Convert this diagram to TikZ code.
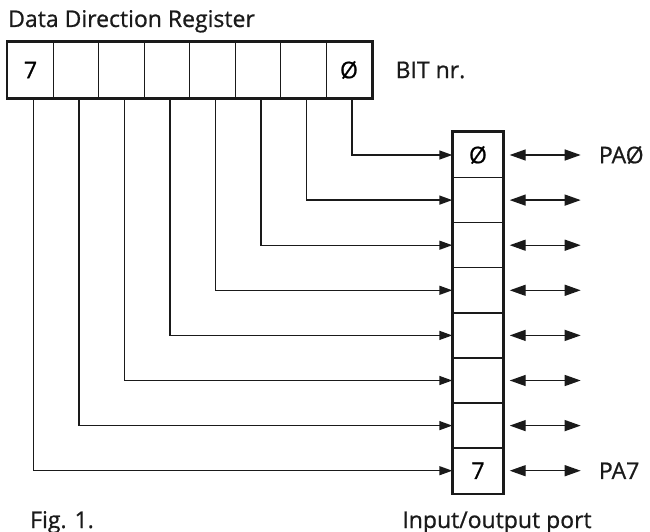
\documentclass[tikz,border=0pt]{standalone}
\usepackage{fontspec}
\setmainfont{Open Sans}[FakeBold=0.8]
\usetikzlibrary{arrows.meta,positioning,calc}
\definecolor{ink}{HTML}{1A1A1A}

\begin{document}
\begin{tikzpicture}[x=1pt,y=-1pt,
  cell/.style={draw=ink,line width=1.4pt,minimum width=45.5pt,minimum height=56pt,inner sep=0pt,font=\fontsize{23}{27}\selectfont},
  pcell/.style={draw=ink,line width=1.4pt,minimum width=50pt,minimum height=45.1pt,inner sep=0pt,font=\fontsize{23}{27}\selectfont},
  frame/.style={draw=ink,line width=2.8pt},
  wire/.style={draw=ink,line width=1.4pt,-{Triangle[length=13pt,width=9pt]}},
  bus/.style={draw=ink,line width=1.4pt,{Triangle[length=16pt,width=11pt]}-{Triangle[length=16pt,width=11pt]}},
  label/.style={font=\fontsize{23}{27}\selectfont,text=ink,inner sep=0pt}
]
  \useasboundingbox (0,0) rectangle (650,532);

  \node[label,anchor=base west] (title) at (8,27) {Data Direction Register};

  \foreach \i/\t in {0/Ø,1/{},2/{},3/{},4/{},5/{},6/{},7/7}
    \node[cell] (d\i) at ({349-45.5*\i},70) {\t};
  \draw[frame] (d7.north west) rectangle (d0.south east);
  \node[label,right=23pt of d0] (bitnr) {BIT nr.};

  \foreach \i/\t in {0/Ø,1/{},2/{},3/{},4/{},5/{},6/{},7/7}
    \node[pcell] (p\i) at (478,{155+45.1*\i}) {\t};
  \draw[frame] (p0.north west) rectangle (p7.south east);

  \foreach \i in {0,...,7}{
    \draw[wire] ([xshift=3pt]d\i.south) |- (p\i.west);
    \coordinate (b\i) at ([xshift=6pt]p\i.east);
    \coordinate (e\i) at ([xshift=77pt]p\i.east);
    \draw[bus] (b\i) -- (e\i);
  }

  \node[label,right=18pt of e0] (pa0) {PAØ};
  \node[label,right=18pt of e7] (pa7) {PA7};

  \node[label,anchor=base west] (fig) at (30,528) {Fig. 1.};
  \node[label,anchor=base] (io) at (497,528) {Input/output port};
\end{tikzpicture}
\end{document}
